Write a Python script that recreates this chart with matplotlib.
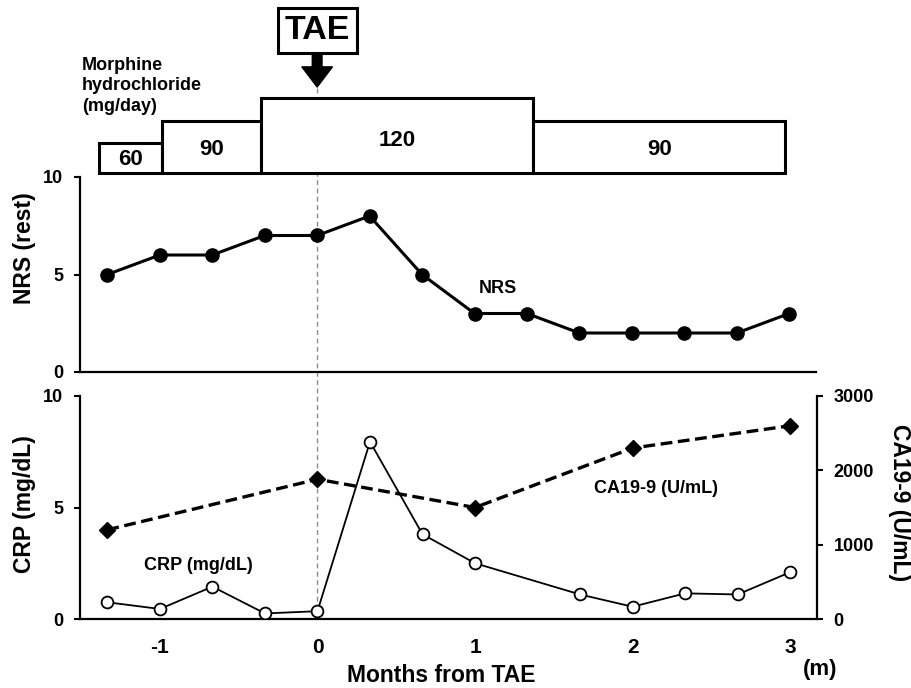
import matplotlib
matplotlib.use("Agg")
import matplotlib.pyplot as plt
from matplotlib.lines import Line2D
from matplotlib import transforms

# =========================
# DATA
# =========================
months = [-4/3, -1, -2/3, -1/3, 0, 1/3, 2/3, 1, 4/3, 5/3, 2, 7/3, 8/3, 3]
nrs = [5, 6, 6, 7, 7, 8, 5, 3, 3, 2, 2, 2, 2, 3]

crp_months = [-4/3, -1, -2/3, -1/3, 0, 1/3, 2/3, 1, 5/3, 2, 7/3, 8/3, 3]
crp = [0.75, 0.45, 1.45, 0.25, 0.35, 7.95, 3.8, 2.5, 1.1, 0.55, 1.15, 1.1, 2.1]

ca199_months = [-4/3, 0, 1, 2, 3]
ca199 = [1200, 1880, 1500, 2300, 2600]

dose_start = [-1.386, -0.985, -0.356, 1.373]
dose_end = [-0.985, -0.356, 1.373, 2.975]
dose = [60, 90, 120, 90]

x_ticks = [-1, 0, 1, 2, 3]

# =========================
# STYLE
# =========================
plt.rcParams["font.family"] = ["Liberation Sans", "DejaVu Sans"]
plt.rcParams["font.weight"] = "bold"
plt.rcParams["axes.unicode_minus"] = False
plt.rcParams["lines.scale_dashes"] = False

W, H = 911, 688
fig = plt.figure(figsize=(W / 100, H / 100), dpi=100)


def box(l, t, r, b):
    return [l / W, 1 - b / H, (r - l) / W, (b - t) / H]


XL = (-1.507, 3.17)

ax_m = fig.add_axes(box(80, 0, 816, 173))
ax_n = fig.add_axes(box(80, 177, 816, 372))
ax_b = fig.add_axes(box(80, 396, 817, 619))
ax_c = ax_b.twinx()

for a in (ax_m, ax_n, ax_b, ax_c):
    a.set_xlim(*XL)
    a.patch.set_visible(False)

# =========================
# MORPHINE BOXES
# =========================
base = 20
widths = [e - s for s, e in zip(dose_start, dose_end)]
heights = [d - base for d in dose]
bars = ax_m.bar(dose_start, heights, width=widths, bottom=base, align="edge",
                facecolor="white", edgecolor="black", linewidth=2.2, zorder=2)
for b in bars:
    b.set_clip_on(False)
for s, w, d in zip(dose_start, widths, dose):
    ax_m.text(s + w / 2, base + 0.44 * (d - base), str(d), ha="center",
              va="center", fontsize=16, fontweight="bold", zorder=3)
ax_m.set_ylim(base, base + 173 / 0.75)
ax_m.axis("off")

ax_m.annotate("", xy=(0, 0.497), xytext=(0, 0.69),
              xycoords=("data", "axes fraction"),
              textcoords=("data", "axes fraction"),
              arrowprops=dict(arrowstyle="simple,head_length=1.45,head_width=2.2,tail_width=0.7",
                              mutation_scale=10, color="black",
                              shrinkA=0, shrinkB=0))
ax_m.text(0, 0.824, "TAE", transform=transforms.blended_transform_factory(ax_m.transData, ax_m.transAxes),
          ha="center", va="center", fontsize=24.5, fontweight="bold",
          bbox=dict(boxstyle="square,pad=0.2", facecolor="white",
                    edgecolor="black", linewidth=2.2))

fig.text(82 / W, 1 - 86 / H, "Morphine\nhydrochloride\n(mg/day)", ha="left",
         va="center", fontsize=13, fontweight="bold", linespacing=1.25)

# =========================
# NRS PANEL
# =========================
ax_n.plot(months, nrs, color="black", linewidth=2.2, marker="o",
          markersize=9.5, zorder=3)
ax_n.set_ylim(0, 10)
ax_n.set_yticks([0, 5, 10])
ax_n.set_xticks([])
for s in ("top", "right"):
    ax_n.spines[s].set_visible(False)
for s in ("left", "bottom"):
    ax_n.spines[s].set_linewidth(1.6)
ax_n.tick_params(axis="y", direction="out", length=4, width=1.5,
                 labelsize=13, pad=8)
ax_n.text(1.15, 4.26, "NRS", ha="center", va="center", fontsize=13,
          fontweight="bold")

# =========================
# CRP / CA19-9 PANEL
# =========================
ax_b.plot(crp_months, crp, color="black", linewidth=1.3, marker="o",
          markersize=8.5, markerfacecolor="white", markeredgecolor="black",
          markeredgewidth=1.3, zorder=3)
ax_b.set_ylim(0, 10)
ax_b.set_yticks([0, 5, 10])
ax_b.set_xticks(x_ticks)
ax_b.set_xticklabels([str(t) for t in x_ticks])
ax_b.spines["top"].set_visible(False)
ax_b.spines["right"].set_visible(False)
for s in ("left", "bottom"):
    ax_b.spines[s].set_linewidth(1.6)
ax_b.tick_params(axis="y", direction="out", length=4, width=1.5,
                 labelsize=13, pad=8)
ax_b.tick_params(axis="x", length=0, labelsize=15, pad=14)
ax_b.text(-0.757, 2.42, "CRP (mg/dL)", ha="center", va="center",
          fontsize=13, fontweight="bold")
ax_b.text(2.15, 5.87, "CA19-9 (U/mL)", ha="center", va="center",
          fontsize=13, fontweight="bold")

ax_c.plot(ca199_months, ca199, color="black", linewidth=2.4,
          linestyle=(0, (8.5, 4)), marker="D", markersize=8.2, zorder=3)
ax_c.set_ylim(0, 3000)
ax_c.set_yticks([0, 1000, 2000, 3000])
for s in ("top", "left", "bottom"):
    ax_c.spines[s].set_visible(False)
ax_c.spines["right"].set_linewidth(1.6)
ax_c.tick_params(axis="y", direction="out", length=4, width=1.5,
                 labelsize=13, pad=8)

# axis titles
fig.text(24 / W, 1 - 248 / H, "NRS (rest)", rotation=90, ha="center",
         va="center", fontsize=16.5, fontweight="bold")
fig.text(25 / W, 1 - 504 / H, "CRP (mg/dL)", rotation=90, ha="center",
         va="center", fontsize=16.5, fontweight="bold")
fig.text(899 / W, 1 - 503 / H, "CA19-9 (U/mL)", rotation=270, ha="center",
         va="center", fontsize=16.5, fontweight="bold")
fig.text(441 / W, 1 - 675 / H, "Months from TAE", ha="center", va="center",
         fontsize=16.5, fontweight="bold")
fig.text(820 / W, 1 - 670 / H, "(m)", ha="center", va="center",
         fontsize=16, fontweight="bold")

# TAE reference line through all panels
trans = transforms.blended_transform_factory(ax_n.transData, fig.transFigure)
fig.add_artist(Line2D([0, 0], [1 - 88 / H, 1 - 619 / H], transform=trans,
                      color="#8c8c8c", linewidth=1.0,
                      linestyle=(0, (3.5, 2.5)), zorder=-1))

fig.savefig("out.png", dpi=100)
